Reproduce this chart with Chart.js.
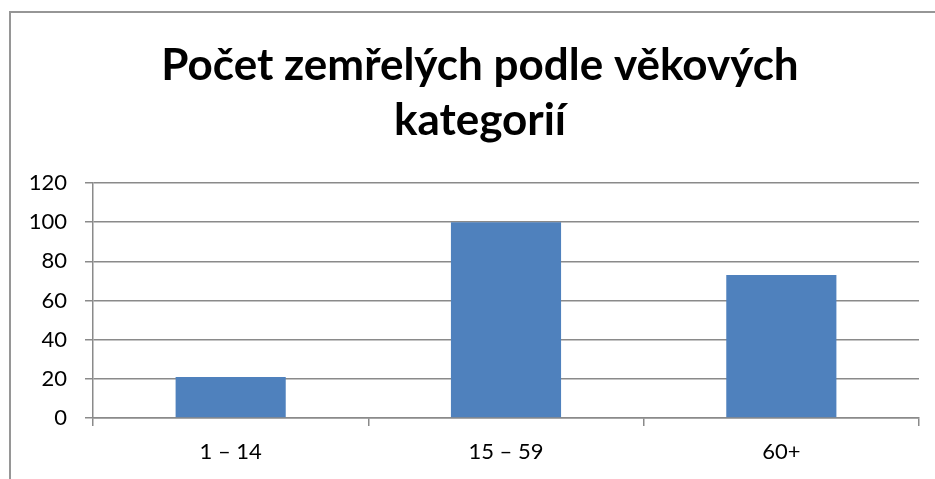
<!DOCTYPE html>
<html lang="cs">
  <head>
    <meta charset="UTF-8" />
    <title>Počet zemřelých</title>
    <style>
      html, body { margin: 0; padding: 0; background: #fff; }
      .chart-container { position: relative; width: 935px; height: 479px; }
    </style>
  </head>
  <body>
    <div class="chart-container">
      <canvas id="bar" width="935" height="479"></canvas>
    </div>

    <script src="https://cdn.jsdelivr.net/npm/chart.js"></script>
    <script>
      // data
      const titleLines = ["Počet zemřelých podle věkových", "kategorií"];
      const categories = ["1 – 14", "15 – 59", "60+"];
      const deaths = [21, 100, 73];
      const yTicks = [0, 20, 40, 60, 80, 100, 120];

      const gridColor = "#8a8a8a";
      const fontFamily = "Lato, 'Open Sans', sans-serif";

      // gray frame on the left and top edge of the chart
      const frame = {
        id: "frame",
        beforeDraw(chart) {
          const ctx = chart.ctx;
          ctx.save();
          ctx.strokeStyle = "#969696";
          ctx.lineWidth = 2;
          ctx.beginPath();
          ctx.moveTo(10, chart.height);
          ctx.lineTo(10, 12);
          ctx.lineTo(chart.width, 12);
          ctx.stroke();
          ctx.restore();
        },
      };

      new Chart(document.getElementById("bar"), {
        type: "bar",
        data: {
          labels: categories,
          datasets: [
            {
              label: "Počet zemřelých",
              data: deaths,
              backgroundColor: "#4f81bd",
              barPercentage: 0.4,
              categoryPercentage: 1,
            },
          ],
        },
        options: {
          responsive: false,
          animation: false,
          layout: { padding: { left: 25, right: 0, top: 0, bottom: 0 } },
          plugins: {
            legend: { display: false },
            tooltip: { enabled: false },
            title: {
              display: true,
              text: titleLines,
              color: "#000",
              font: { family: fontFamily, size: 44, weight: "bold", lineHeight: 55 / 44 },
              padding: { top: 38, bottom: 35 },
            },
          },
          scales: {
            x: {
              grid: {
                drawOnChartArea: false,
                tickLength: 8,
                color: gridColor,
                lineWidth: 1.5,
              },
              border: { color: gridColor, width: 1.5 },
              ticks: {
                color: "#000",
                font: { family: fontFamily, size: 22 },
                padding: 13,
              },
              afterFit(scale) {
                scale.height = 61;
              },
            },
            y: {
              min: 0,
              max: 120,
              afterBuildTicks(scale) {
                scale.ticks = yTicks.map((v) => ({ value: v }));
              },
              grid: { color: gridColor, lineWidth: 1.5, tickLength: 8 },
              border: { color: gridColor, width: 1.5 },
              ticks: {
                color: "#000",
                font: { family: fontFamily, size: 22 },
                padding: 18,
              },
              afterFit(scale) {
                scale.width = 68;
              },
            },
            // empty axis on the right, only keeps the plot short of the edge
            yRight: {
              position: "right",
              min: 0,
              max: 120,
              grid: { display: false },
              border: { display: false },
              ticks: { display: false },
              afterFit(scale) {
                scale.width = 16;
              },
            },
          },
        },
        plugins: [frame],
      });
    </script>
  </body>
</html>
